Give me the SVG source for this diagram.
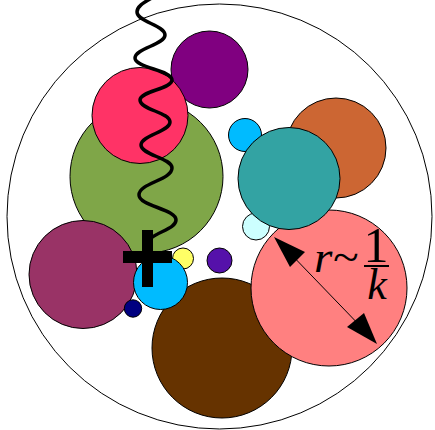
<svg xmlns="http://www.w3.org/2000/svg" width="435" height="430" viewBox="0 0 435 430">
<style>
.c{stroke:#000;stroke-width:1}
.t{font-family:"Liberation Serif","DejaVu Serif",serif;fill:#000}
</style>
<rect width="435" height="430" fill="#fff"/>
<g id="outer"><circle cx="219.5" cy="216.5" r="212.5" fill="none" stroke="#000" stroke-width="1"/></g>
<g id="purple"><circle class="c" cx="209.5" cy="69.5" r="38.5" fill="#800080"/></g>
<g id="green"><circle class="c" cx="146.5" cy="176.5" r="76.5" fill="#7FA648"/></g>
<g id="pink"><circle class="c" cx="140" cy="115.5" r="48" fill="#FF3366"/></g>
<g id="maroon"><circle class="c" cx="83" cy="274.5" r="54" fill="#993366"/></g>
<g id="brown"><circle class="c" cx="222" cy="348" r="70" fill="#663300"/></g>
<g id="yellow"><circle class="c" cx="183" cy="258.5" r="10.5" fill="#FFFF66"/></g>
<g id="cyan"><circle class="c" cx="160.5" cy="282.5" r="27" fill="#00BBFF"/></g>
<g id="violet"><circle class="c" cx="219.5" cy="260.5" r="12.5" fill="#5511AA"/></g>
<g id="navy"><circle class="c" cx="133" cy="308.5" r="8.7" fill="#000080"/></g>
<g id="orange"><circle class="c" cx="336" cy="148" r="50" fill="#CC6633"/></g>
<g id="skyblue"><circle class="c" cx="245" cy="135" r="16.5" fill="#00BBFF"/></g>
<g id="lightcyan"><circle class="c" cx="256" cy="226.5" r="13.5" fill="#CCFFFF"/></g>
<g id="salmon"><circle class="c" cx="329" cy="288" r="78" fill="#FF8080"/></g>
<g id="teal"><circle class="c" cx="289" cy="178.5" r="51" fill="#33A3A3"/></g>
<g id="connectors">
<path d="M158,-6 C150,0 137,4 137,12 C137,22 165,25 165,35 C165,45 135,48 135,58 C135,68 172,70 172,80 C172,89 140,91 140,100 C140,110 170,112 170,122 C170,132 141,135 141,145 C141,155 172,158 172,168 C172,180 139,183 139,195 C139,206 176,209 176,220 C176,228 160,231 151,238" fill="none" stroke="#000" stroke-width="3.5" stroke-linecap="round"/>
<line x1="285" y1="248" x2="366" y2="332" stroke="#000" stroke-width="1"/>
<polygon points="274,237 290,267 305,252" fill="#000"/>
<polygon points="377,344 347,327 364,313" fill="#000"/>
</g>
<g id="cross">
<rect x="142" y="230" width="11" height="57" fill="#000"/>
<rect x="123" y="251" width="49" height="12" fill="#000"/>
</g>
<g id="label">
<text class="t" x="314" y="272" font-size="45" font-style="italic" textLength="44" lengthAdjust="spacingAndGlyphs">r~</text>
<text class="t" x="376" y="262" font-size="50" text-anchor="middle">1</text>
<line x1="364" y1="266" x2="389" y2="266" stroke="#000" stroke-width="2"/>
<text class="t" x="377" y="299" font-size="44" font-style="italic" text-anchor="middle">k</text>
</g>
</svg>
